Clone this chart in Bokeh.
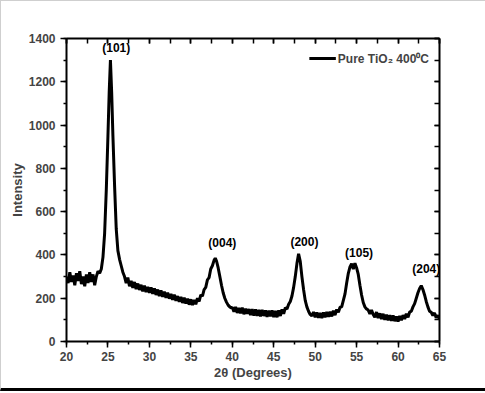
from bokeh.plotting import figure
from bokeh.models import LinearAxis, SingleIntervalTicker, Range1d, ColumnDataSource
from bokeh.embed import file_html
from bokeh.resources import INLINE
from bokeh.core.properties import value

# ---- data (2theta in degrees, intensity in counts) ----
two_theta = [
    20.0, 20.2, 20.4, 20.6, 20.8, 21.0, 21.2, 21.4, 21.6, 21.8,
    22.0, 22.2, 22.4, 22.6, 22.8, 23.0, 23.2, 23.4, 23.6, 23.8,
    24.0, 24.2, 24.4, 24.6, 24.8, 25.0, 25.15, 25.3, 25.45, 25.6,
    25.8, 26.0, 26.2, 26.4, 26.6, 26.8, 27.0, 27.2, 27.4, 27.6,
    27.8, 28.0, 28.2, 28.4, 28.6, 28.8, 29.0, 29.2, 29.4, 29.6,
    29.8, 30.0, 30.2, 30.4, 30.6, 30.8, 31.0, 31.2, 31.4, 31.6,
    31.8, 32.0, 32.2, 32.4, 32.6, 32.8, 33.0, 33.2, 33.4, 33.6,
    33.8, 34.0, 34.2, 34.4, 34.6, 34.8, 35.0, 35.2, 35.4, 35.6,
    35.8, 36.0, 36.2, 36.4, 36.6, 36.8, 37.0, 37.2, 37.4, 37.6,
    37.8, 37.95, 38.1, 38.3, 38.5, 38.7, 38.9, 39.1, 39.3, 39.5,
    39.7, 39.9, 40.0, 40.2, 40.4, 40.6, 40.8, 41.0, 41.2, 41.4,
    41.6, 41.8, 42.0, 42.2, 42.4, 42.6, 42.8, 43.0, 43.2, 43.4,
    43.6, 43.8, 44.0, 44.2, 44.4, 44.6, 44.8, 45.0, 45.2, 45.4,
    45.6, 45.8, 46.0, 46.2, 46.4, 46.6, 46.8, 47.0, 47.2, 47.4,
    47.6, 47.8, 48.0, 48.2, 48.4, 48.6, 48.8, 49.0, 49.2, 49.4,
    49.6, 49.8, 50.0, 50.2, 50.4, 50.6, 50.8, 51.0, 51.2, 51.4,
    51.6, 51.8, 52.0, 52.2, 52.4, 52.6, 52.8, 53.0, 53.2, 53.4,
    53.6, 53.8, 54.0, 54.2, 54.4, 54.6, 54.8, 55.0, 55.2, 55.4,
    55.6, 55.8, 56.0, 56.2, 56.4, 56.6, 56.8, 57.0, 57.2, 57.4,
    57.6, 57.8, 58.0, 58.2, 58.4, 58.6, 58.8, 59.0, 59.2, 59.4,
    59.6, 59.8, 60.0, 60.2, 60.4, 60.6, 60.8, 61.0, 61.2, 61.4,
    61.6, 61.8, 62.0, 62.2, 62.4, 62.6, 62.8, 63.0, 63.2, 63.4,
    63.6, 63.8, 64.0, 64.2, 64.4, 64.6, 64.8, 65.0,
]
intensity = [
    300, 270, 320, 275, 305, 260, 315, 280, 325, 265,
    300, 255, 310, 270, 320, 275, 310, 260, 300, 325,
    315, 335, 390, 500, 700, 950, 1150, 1300, 1150, 950,
    720, 520, 420, 380, 350, 320, 300, 270, 295, 255,
    280, 248, 275, 242, 268, 238, 262, 232, 258, 228,
    252, 225, 250, 220, 245, 215, 240, 210, 236, 206,
    230, 202, 226, 198, 220, 193, 216, 188, 210, 183,
    206, 178, 202, 175, 198, 170, 195, 168, 192, 172,
    200, 185, 215, 210, 240, 250, 285, 295, 335, 350,
    375, 385, 372, 340, 300, 260, 225, 200, 182, 168,
    160, 155, 158, 138, 160, 132, 155, 130, 156, 126,
    152, 128, 150, 122, 150, 120, 148, 118, 146, 116,
    146, 118, 144, 114, 143, 116, 144, 113, 142, 112,
    144, 118, 148, 128, 156, 150, 172, 185, 210, 250,
    300, 360, 405, 370, 300, 240, 190, 160, 140, 125,
    118, 136, 112, 134, 110, 132, 108, 134, 112, 136,
    114, 138, 116, 142, 122, 148, 135, 158, 160, 190,
    220, 270, 315, 345, 360, 335, 362, 340, 310, 260,
    215, 180, 160, 150, 145, 128, 145, 125, 112, 136,
    108, 130, 104, 128, 100, 124, 98, 122, 96, 120,
    94, 116, 92, 118, 98, 122, 104, 128, 112, 136,
    140, 160, 175, 200, 225, 245, 258, 240, 215, 185,
    160, 140, 135, 120, 132, 110, 120, 105,
]

peak_labels = ["(101)", "(004)", "(200)", "(105)", "(204)"]
peak_label_x = [26.0, 38.8, 48.7, 55.3, 63.4]
peak_label_y = [1355, 455, 462, 408, 333]

series_name = "Pure TiO\u2082 400\u2070C"

x_ticks_interval = 5
y_ticks_interval = 200

FONT = "Liberation Sans"

p = figure(
    width=485, height=391,
    output_backend="svg", toolbar_location=None,
    x_range=Range1d(20, 65), y_range=Range1d(0, 1400),
    min_border_left=65, min_border_right=47,
    min_border_top=37, min_border_bottom=51,
    background_fill_color="white", border_fill_color="white",
)
p.styles = {
    "border-top": "1px solid #cfcfcf",
    "border-left": "1px solid #cfcfcf",
    "border-bottom": "3px solid #000000",
}
p.outline_line_color = None
p.grid.visible = False

src = ColumnDataSource(dict(x=two_theta, y=intensity))
p.line("x", "y", source=src, line_color="black", line_width=3,
       legend_label=series_name)

lab_src = ColumnDataSource(dict(x=peak_label_x, y=peak_label_y, t=peak_labels))
p.text("x", "y", text="t", source=lab_src, text_align="center",
       text_baseline="middle", text_font=value(FONT), text_font_style="bold",
       text_font_size="12px", text_color="black")

# bottom axis
xa = p.xaxis[0]
xa.ticker = SingleIntervalTicker(interval=x_ticks_interval, num_minor_ticks=2)
xa.axis_label = "2\u03b8 (Degrees)"
# left axis
ya = p.yaxis[0]
ya.ticker = SingleIntervalTicker(interval=y_ticks_interval, num_minor_ticks=2)
ya.axis_label = "Intensity"

for ax in (xa, ya):
    ax.axis_line_width = 2
    ax.major_tick_line_width = 1.5
    ax.minor_tick_line_width = 1.5
    ax.major_tick_in = 0
    ax.major_tick_out = 6
    ax.minor_tick_in = 0
    ax.minor_tick_out = 3
    ax.major_label_text_font = FONT
    ax.major_label_text_font_style = "bold"
    ax.major_label_text_font_size = "12px"
    ax.axis_label_text_font = FONT
    ax.axis_label_text_font_style = "bold"
    ax.axis_label_text_font_size = "13px"
xa.major_label_standoff = 4
xa.axis_label_standoff = 1
ya.major_label_standoff = 5
ya.axis_label_standoff = 1

# mirrored top / right axes with inward ticks, no labels
top = LinearAxis(ticker=SingleIntervalTicker(interval=x_ticks_interval, num_minor_ticks=2))
right = LinearAxis(ticker=SingleIntervalTicker(interval=y_ticks_interval, num_minor_ticks=2))
for ax in (top, right):
    ax.axis_line_width = 2
    ax.major_tick_line_width = 1.5
    ax.minor_tick_line_width = 1.5
    ax.major_tick_in = 5
    ax.major_tick_out = 0
    ax.minor_tick_in = 5
    ax.minor_tick_out = 0
    ax.major_label_text_font_size = "1px"
    ax.major_label_text_alpha = 0
    ax.major_label_standoff = 0
p.add_layout(top, "above")
p.add_layout(right, "right")

leg = p.legend[0]
leg.location = "top_right"
leg.margin = 10
leg.padding = 5
leg.border_line_color = None
leg.background_fill_alpha = 0
leg.glyph_width = 27
leg.label_standoff = 2
leg.label_text_font = FONT
leg.label_text_font_style = "bold"
leg.label_text_font_size = "12px"

open("out.html", "w").write(file_html(p, INLINE))
